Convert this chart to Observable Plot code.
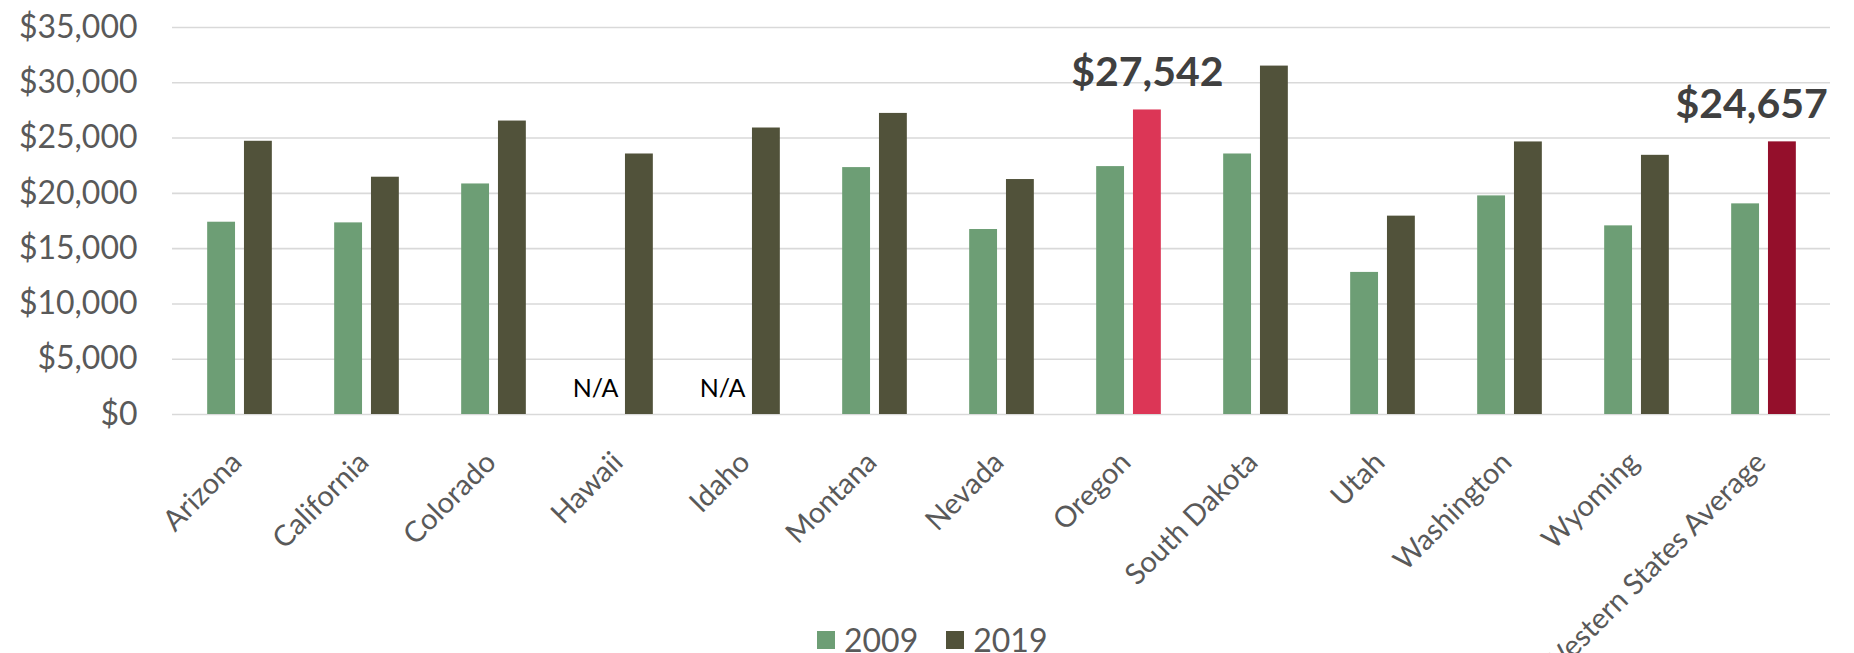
<!DOCTYPE html>
<html>
<head>
<meta charset="utf-8">
<script src="https://cdn.jsdelivr.net/npm/d3@7"></script>
<script src="https://cdn.jsdelivr.net/npm/@observablehq/plot@0.6"></script>
<style>
  html, body { margin: 0; padding: 0; background: #fff; }
  #chart { position: relative; width: 1854px; height: 653px; overflow: hidden; font-family: Lato, "Open Sans", sans-serif; }
  #chart svg { display: block; }
  #legend { position: absolute; left: 817px; top: 624px; display: flex; align-items: center; color: #595959; font-size: 32px; line-height: 32px; }
  #legend .item { display: flex; align-items: center; margin-right: 28px; }
  #legend .swatch { width: 18px; height: 18px; margin-right: 9px; }
</style>
</head>
<body>
<div id="chart"></div>
<script>
// Spending per student, 2009 vs 2019, western states
const states = ["Arizona", "California", "Colorado", "Hawaii", "Idaho", "Montana", "Nevada",
  "Oregon", "South Dakota", "Utah", "Washington", "Wyoming", "Western States Average"];
const values2009 = [17390, 17330, 20850, null, null, 22330, 16730, 22420, 23560, 12850, 19770, 17060, 19050];
const values2019 = [24710, 21460, 26540, 23560, 25910, 27230, 21250, 27542, 31510, 17940, 24650, 23440, 24657];
const yTicks = [0, 5000, 10000, 15000, 20000, 25000, 30000, 35000];
const seriesNames = ["2009", "2019"];
const seriesColors = ["#6d9e75", "#51523a"];
const highlightStates = ["Oregon", "Western States Average"];
const highlightColors = ["#dc3656", "#940f2b"];
const missingText = "N/A";

const width = 1854, height = 653;
const marginLeft = 172, marginRight = 24, marginTop = 27, marginBottom = 239;

// Pair of bars centred in each state's band
const band = (width - marginLeft - marginRight) / states.length;
const barWidth = 28.4, barGap = 8.4;
const outerInset = band / 2 - barWidth - barGap / 2;
const innerInset = band / 2 + barGap / 2;
const barOffset = barGap / 2 + barWidth / 2;

const money = d3.format("$,.0f");

const rows2009 = states.map((state, i) => ({state, value: values2009[i]}));
const rows2019 = states.map((state, i) => {
  const h = highlightStates.indexOf(state);
  return {state, value: values2019[i], fill: h >= 0 ? highlightColors[h] : seriesColors[1]};
});
const missing = rows2009.filter(d => d.value == null);
const labelled = rows2019.filter(d => highlightStates.includes(d.state));
const lastState = states[states.length - 1];

const chart = Plot.plot({
  width, height, marginLeft, marginRight, marginTop, marginBottom,
  style: {fontFamily: "Lato, 'Open Sans', sans-serif", background: "#fff"},
  x: {type: "band", domain: states, padding: 0, label: null},
  y: {domain: [0, 35000], label: null},
  color: {type: "identity"},
  marks: [
    Plot.gridY(yTicks, {stroke: "#d9d9d9", strokeOpacity: 1, strokeWidth: 1.6}),
    Plot.axisY(yTicks, {tickSize: 0, tickPadding: 35, tickFormat: money, fontSize: 32, color: "#595959"}),
    Plot.axisX({tickSize: 0, tickPadding: 43, dx: -3, tickRotate: -45, fontSize: 29, color: "#595959"}),
    Plot.barY(rows2009.filter(d => d.value != null), {
      x: "state", y: "value", fill: seriesColors[0],
      insetLeft: outerInset, insetRight: innerInset
    }),
    Plot.barY(rows2019, {
      x: "state", y: "value", fill: "fill",
      insetLeft: innerInset, insetRight: outerInset
    }),
    Plot.text(missing, {
      x: "state", y: 0, text: () => missingText, dx: -barOffset - 7, dy: -18,
      lineAnchor: "bottom", fontSize: 25, fill: "#000"
    }),
    Plot.text(labelled.filter(d => d.state !== lastState), {
      x: "state", y: "value", text: d => money(d.value), dx: barOffset, dy: -23.5,
      lineAnchor: "bottom", fontSize: 41, fontWeight: 700, fill: "#404040"
    }),
    Plot.text(labelled.filter(d => d.state === lastState), {
      x: "state", y: "value", text: d => money(d.value), dx: band / 2, dy: -23.5,
      lineAnchor: "bottom", textAnchor: "end", fontSize: 41, fontWeight: 700, fill: "#404040"
    })
  ]
});

const container = document.getElementById("chart");
container.appendChild(chart);

// Series key under the chart
const legend = document.createElement("div");
legend.id = "legend";
seriesNames.forEach((name, i) => {
  const item = document.createElement("div");
  item.className = "item";
  const sw = document.createElement("span");
  sw.className = "swatch";
  sw.style.background = seriesColors[i];
  const label = document.createElement("span");
  label.textContent = name;
  item.append(sw, label);
  legend.appendChild(item);
});
container.appendChild(legend);
</script>
</body>
</html>
